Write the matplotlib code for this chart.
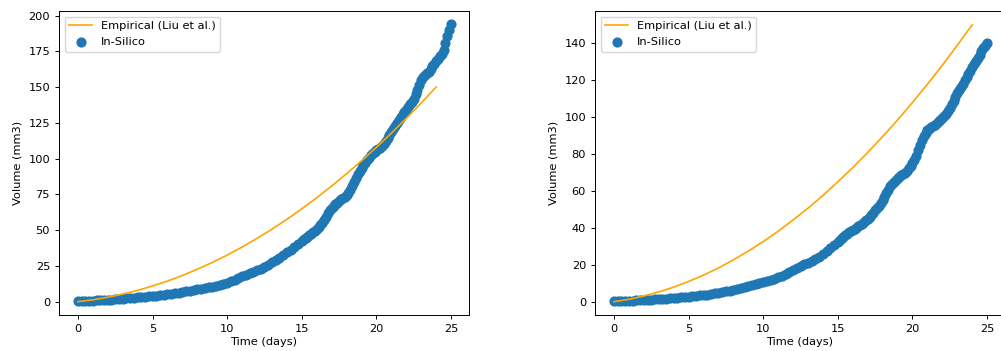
import numpy as np
import matplotlib
matplotlib.use('Agg')
import matplotlib.pyplot as plt

# --- Data ---
# Empirical growth curve (Liu et al.), same in both panels
emp_days = list(range(0, 25))
emp_volume = [0.0, 1.3, 3.1, 5.3, 7.9, 11.0, 14.4, 18.3, 22.7, 27.4,
              32.6, 38.2, 44.3, 50.7, 57.6, 65.0, 72.7, 80.9, 89.5, 98.5,
              108.0, 117.9, 128.2, 139.0, 150.1]

# In-silico simulation: every quarter day up to day 15, then every eighth of a day
sim_days = np.concatenate([np.arange(0, 15, 0.25), np.arange(15, 25.001, 0.125)])

sim_volume_a = [0.7, 0.7, 0.7, 0.75, 0.8, 0.9, 1.0, 1.15, 1.3, 1.5,
                1.7, 1.9, 2.1, 2.3, 2.5, 2.75, 3.0, 3.25, 3.5, 3.75,
                4.0, 4.3, 4.6, 4.9, 5.2, 5.6, 6.0, 6.4, 6.8, 7.2,
                7.7, 8.1, 8.6, 9.1, 9.6, 10.1, 10.6, 11.2, 11.8, 12.4,
                13.2, 14.3, 15.5, 16.7, 17.8, 18.9, 20.0, 21.1, 22.0, 23.0,
                24.5, 26.0, 27.5, 29.0, 30.5, 32.5, 34.5, 36.5, 38.5, 40.5,
                # day 15 onwards
                42.5, 43.5, 44.5, 45.5, 46.5, 47.5, 48.5, 49.7,
                51.0, 52.2, 53.5, 55.0, 57.0, 59.5, 62.0, 64.0,
                65.5, 66.8, 68.0, 69.3, 70.5, 71.5, 72.5, 73.5,
                74.5, 76.0, 78.0, 81.0, 84.0, 86.5, 89.0, 91.3,
                93.5, 95.3, 97.0, 98.8, 100.5, 102.3, 104.0, 105.0,
                106.0, 106.8, 107.5, 109.0, 110.5, 112.5, 114.5, 116.8,
                119.0, 121.0, 123.0, 125.0, 127.0, 129.0, 131.0, 132.5,
                134.0, 136.0, 138.0, 140.0, 142.0, 145.0, 148.0, 151.5,
                155.0, 157.0, 158.5, 159.8, 161.0, 163.0, 165.0, 166.5,
                168.0, 169.7, 171.5, 173.5, 176.0, 181.0, 186.0, 190.0,
                194.0]

sim_volume_b = [0.5, 0.5, 0.5, 0.55, 0.6, 0.65, 0.7, 0.8, 0.9, 1.0,
                1.1, 1.25, 1.4, 1.55, 1.7, 1.9, 2.1, 2.25, 2.4, 2.6,
                2.8, 3.0, 3.2, 3.4, 3.6, 3.9, 4.2, 4.55, 4.9, 5.25,
                5.6, 6.05, 6.5, 6.95, 7.4, 7.9, 8.4, 8.9, 9.4, 9.95,
                10.5, 11.1, 11.8, 12.5, 13.3, 14.1, 15.0, 16.1, 17.3, 18.5,
                19.6, 20.3, 21.0, 21.9, 23.0, 24.5, 26.0, 27.5, 29.0, 30.7,
                # day 15 onwards
                32.5, 33.4, 34.3, 35.2, 36.0, 36.8, 37.6, 38.3,
                39.0, 39.6, 40.2, 40.8, 41.5, 42.3, 43.2, 44.1,
                45.0, 46.1, 47.2, 48.3, 49.5, 50.7, 52.0, 53.5,
                55.0, 56.9, 58.8, 60.7, 62.5, 63.8, 65.0, 66.0,
                67.0, 67.8, 68.5, 69.2, 70.0, 71.1, 72.3, 73.6,
                75.0, 76.8, 79.0, 82.0, 85.0, 87.7, 90.0, 91.7,
                93.0, 93.8, 94.5, 95.2, 96.0, 96.9, 97.8, 98.6,
                99.5, 100.7, 102.0, 103.5, 105.0, 107.0, 109.0, 111.0,
                113.0, 114.8, 116.5, 118.3, 120.0, 121.8, 123.5, 125.2,
                127.0, 128.8, 130.5, 132.3, 134.0, 135.8, 137.5, 138.8,
                140.0]

# --- Style ---
fs = 8.2
plt.rcParams['font.size'] = fs
plt.rcParams['axes.linewidth'] = 0.7
plt.rcParams['xtick.major.size'] = 2.9
plt.rcParams['ytick.major.size'] = 2.9
plt.rcParams['xtick.major.width'] = 0.7
plt.rcParams['ytick.major.width'] = 0.7

fig = plt.figure(figsize=(10.01, 3.51), dpi=100)
# right panel sticks out past the right edge, like the cropped reference
ax1 = fig.add_axes([0.0589, 0.1026, 0.4096, 0.866])
ax2 = fig.add_axes([0.5944, 0.1026, 0.4096, 0.866])

panels = [(ax1, sim_volume_a, (-9.3, 203.3), [0, 25, 50, 75, 100, 125, 150, 175, 200]),
          (ax2, sim_volume_b, (-7.2, 157.6), [0, 20, 40, 60, 80, 100, 120, 140])]

for ax, sim_volume, ylim, yticks in panels:
    ax.plot(emp_days, emp_volume, color='orange', lw=1.2, label='Empirical (Liu et al.)')
    ax.scatter(sim_days, sim_volume, s=40, color='#1f77b4', label='In-Silico')
    ax.set_xlim(-1.27, 26.2)
    ax.set_ylim(*ylim)
    ax.set_xticks([0, 5, 10, 15, 20, 25])
    ax.set_yticks(yticks)
    ax.set_xlabel('Time (days)', labelpad=2)
    ax.set_ylabel('Volume (mm3)')
    ax.legend(loc='upper left', fontsize=fs)

plt.savefig('out.png', dpi=100)
